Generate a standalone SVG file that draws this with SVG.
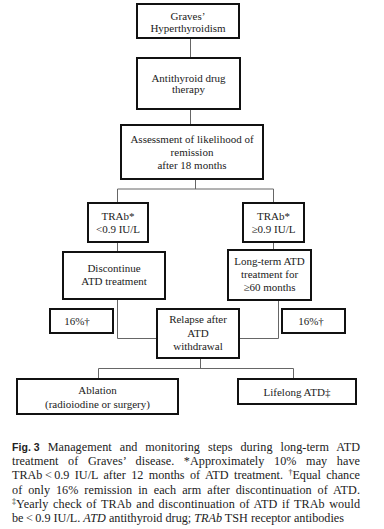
<svg xmlns="http://www.w3.org/2000/svg" width="384" height="529" viewBox="0 0 384 529">
<style>
.box{fill:#fff;stroke:#111;stroke-width:2}
.t{font-family:"Liberation Serif","Times New Roman",serif;font-size:11px;fill:#222;text-anchor:middle}
.c{fill:none;stroke:#666;stroke-width:1}
.cap{font-family:"Liberation Serif","Times New Roman",serif;font-size:12.2px;fill:#222}
.fig{font-family:"Liberation Sans",Arial,sans-serif;font-weight:bold;font-size:10.5px;word-spacing:0}
.sup{font-size:8px}
</style>
<rect width="384" height="529" fill="#fff"/>
<g id="connectors">
<path class="c" d="M190.5 38V58"/>
<path class="c" d="M190.5 109V125"/>
<path class="c" d="M195.5 179V189M117.5 203V189H273.5V203"/>
<path class="c" d="M117.5 242V252"/>
<path class="c" d="M273.5 242V250"/>
<path class="c" d="M117.5 299V338.5H157"/>
<path class="c" d="M278.5 300V338.5H239"/>
<path class="c" d="M200.5 358V368.5M98.5 379V368.5H293.5V379"/>
</g>
<g id="n1"><rect class="box" x="137" y="4" width="102" height="34"/><text class="t" x="188" y="20">Graves’</text><text class="t" x="188" y="32">Hyperthyroidism</text></g>
<g id="n2"><rect class="box" x="137" y="58" width="103" height="51"/><text class="t" x="188.5" y="82">Antithyroid  drug</text><text class="t" x="188.5" y="93">therapy</text></g>
<g id="n3"><rect class="box" x="121" y="125" width="142" height="54"/><text class="t" x="192" y="143">Assessment of likelihood  of</text><text class="t" x="192" y="156">remission</text><text class="t" x="192" y="169">after  18 months</text></g>
<g id="n4"><rect class="box" x="88" y="203" width="60" height="39"/><text class="t" x="118" y="220">TRAb*</text><text class="t" x="118" y="233">&lt;0.9 IU/L</text></g>
<g id="n5"><rect class="box" x="243" y="203" width="61" height="39"/><text class="t" x="273.5" y="220">TRAb*</text><text class="t" x="273.5" y="233">≥0.9 IU/L</text></g>
<g id="n6"><rect class="box" x="63" y="252" width="102" height="47"/><text class="t" x="114" y="272">Discontinue</text><text class="t" x="114" y="285">ATD treatment</text></g>
<g id="n7"><rect class="box" x="228" y="250" width="83" height="50"/><text class="t" x="269.5" y="265">Long-term ATD</text><text class="t" x="269.5" y="278">treatment  for</text><text class="t" x="269.5" y="291">≥60 months</text></g>
<g id="n8"><rect class="box" x="50" y="309" width="63" height="24"/><text class="t" x="77" y="325">16%†</text></g>
<g id="n9"><rect class="box" x="157" y="309" width="82" height="49"/><text class="t" x="198" y="323">Relapse after</text><text class="t" x="198" y="337">ATD</text><text class="t" x="198" y="350">withdrawal</text></g>
<g id="n10"><rect class="box" x="282" y="309" width="63" height="24"/><text class="t" x="311" y="325">16%†</text></g>
<g id="n11"><rect class="box" x="17" y="379" width="161" height="35"/><text class="t" x="97.5" y="394">Ablation</text><text class="t" x="97.5" y="408">(radioiodine  or surgery)</text></g>
<g id="n12"><rect class="box" x="238" y="379" width="118" height="25"/><text class="t" x="297" y="396">Lifelong ATD‡</text></g>
<g id="caption">
<text class="cap" x="12" y="451" textLength="348" lengthAdjust="spacing"><tspan class="fig">Fig. 3</tspan><tspan word-spacing="4.8"> Management and monitoring steps during long-term ATD</tspan></text>
<text class="cap" x="12" y="465" textLength="348" lengthAdjust="spacing" word-spacing="6.5">treatment of Graves’ disease. *Approximately 10% may have</text>
<text class="cap" x="12" y="479" textLength="348" lengthAdjust="spacing" word-spacing="2.4">TRAb&#8201;&lt;&#8201;0.9 IU/L after 12 months of ATD treatment. <tspan class="sup" dy="-4">†</tspan><tspan dy="4">Equal chance</tspan></text>
<text class="cap" x="12" y="494" textLength="348" lengthAdjust="spacing" word-spacing="2.8">of only 16% remission in each arm after discontinuation of ATD.</text>
<text class="cap" x="12" y="508" textLength="348" lengthAdjust="spacing" word-spacing="1.4"><tspan class="sup" dy="-4">‡</tspan><tspan dy="4">Yearly check of TRAb and discontinuation of ATD if TRAb would</tspan></text>
<text class="cap" x="12" y="522">be&#8201;&lt;&#8201;0.9 IU/L. <tspan font-style="italic">ATD</tspan> antithyroid drug; <tspan font-style="italic">TRAb</tspan> TSH receptor antibodies</text>
</g>
</svg>
